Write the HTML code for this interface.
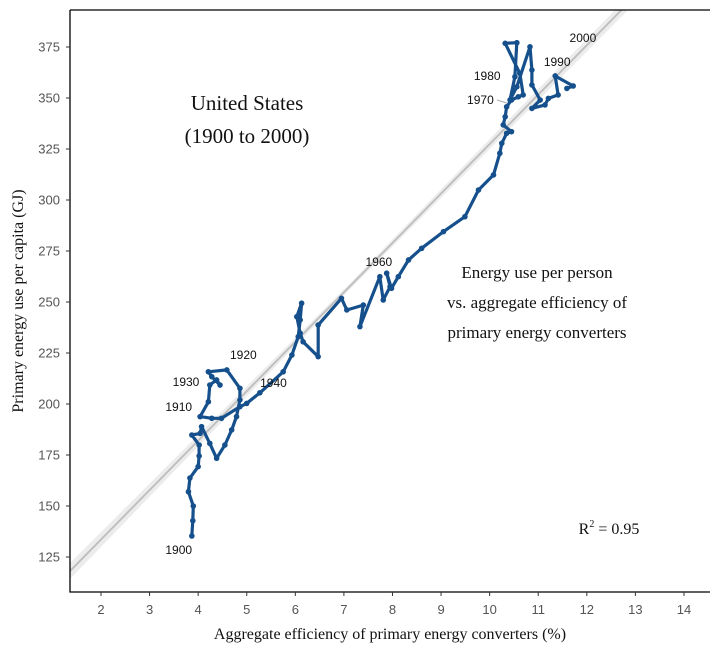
<!DOCTYPE html>
<html><head><meta charset="utf-8"><style>
body{margin:0;background:#fff;}
svg{display:block;}
.tk{font-family:"Liberation Sans",sans-serif;font-size:13px;fill:#555;}
.yr{font-family:"Liberation Sans",sans-serif;font-size:12px;fill:#111;}
.serif{font-family:"Liberation Serif",serif;fill:#111;}
</style></head><body>
<svg id="chart" width="722" height="650"></svg>
<script>
const xValues=[3.87,3.89,3.90,3.80,3.83,4.00,4.02,4.02,3.87,4.04,4.07,4.24,4.38,4.55,4.69,4.79,4.86,4.86,4.59,4.21,4.28,4.45,4.38,4.24,4.21,4.04,4.28,4.48,4.86,5.00,5.27,5.75,5.93,6.06,6.10,6.13,6.03,6.10,6.16,6.47,6.47,6.95,7.06,7.40,7.33,7.74,7.81,7.95,7.88,7.98,8.12,8.33,8.60,9.05,9.49,9.77,10.08,10.21,10.25,10.35,10.45,10.28,10.32,10.35,10.45,10.59,10.69,10.62,10.32,10.56,10.52,10.42,10.56,10.83,10.87,10.87,11.04,10.87,11.14,11.21,11.41,11.35,11.72,11.59];
const yValues=[135.3,142.8,150,157,163.7,169.3,174.5,179.9,184.8,185.6,188.9,180.7,173.4,179.9,187.3,193.8,202,207.7,216.7,215.8,213.4,209.3,211.8,209.3,201.1,193.8,193,193,198.7,200.3,205.5,215.8,224,233,241.2,249.4,242.8,234.7,230.5,223.2,238.7,251.8,246.1,248.5,237.9,262.4,251,257.5,264.1,256.7,262.4,270.6,276.3,284.5,291.8,304.9,312.3,322.9,327.8,332.7,333.5,336.8,340.8,345.7,349,350.6,351.5,362.1,376.8,377.1,360.4,349,355.5,375.1,363.7,356.4,349,344.9,346.6,349.8,351.5,360.8,355.9,354.7];
const xTicks=[2,3,4,5,6,7,8,9,10,11,12,13,14];
const yTicks=[125,150,175,200,225,250,275,300,325,350,375];
const fitIntercept=85.1, fitSlope=24.23;
const yearLabels=["1900","1910","1920","1930","1940","1960","1970","1980","1990","2000"];
const yearLabelX=[3.6,3.6,4.93,3.75,5.55,7.72,9.81,9.95,11.39,11.92];
const yearLabelY=[128.4,198.5,224,210.8,210.3,269.6,349,360.8,367.6,379.4];

const L=70,R=710,T=10,B=592;
const xs=v=>101+(v-2)*48.58;
const ys=v=>557-(v-125)*2.04;
const NS="http://www.w3.org/2000/svg";
const svg=document.getElementById('chart');
function mk(tag,attrs,parent){const e=document.createElementNS(NS,tag);for(const k in attrs)e.setAttribute(k,attrs[k]);(parent||svg).appendChild(e);return e;}
const defs=mk('defs',{});
const cp=mk('clipPath',{id:'clip'},defs);mk('rect',{x:L,y:T,width:R-L,height:B-T},cp);
const g=mk('g',{'clip-path':'url(#clip)'});
const x0=1.3,x1=14.6,xm=7.2;
const band=mk('polygon',{points:[[xs(x0),ys(fitIntercept+fitSlope*x0)-8],[xs(xm),ys(fitIntercept+fitSlope*xm)-3],[xs(x1),ys(fitIntercept+fitSlope*x1)-8],[xs(x1),ys(fitIntercept+fitSlope*x1)+8],[xs(xm),ys(fitIntercept+fitSlope*xm)+3],[xs(x0),ys(fitIntercept+fitSlope*x0)+8]].map(p=>p.join(',')).join(' '),fill:'#ececec'},g);


const fit=mk('line',{x1:xs(x0),y1:ys(fitIntercept+fitSlope*x0),x2:xs(x1),y2:ys(fitIntercept+fitSlope*x1),stroke:'#bdbdbd','stroke-width':1.8},g);


const ax=mk('path',{d:`M${L},${T}H${R}M${L},${T}V${B}H${R}`,stroke:'#000','stroke-width':1.3,fill:'none'});


xTicks.forEach(v=>{
  mk('line',{x1:xs(v),x2:xs(v),y1:B,y2:B+4,stroke:'#333'});
  const t=mk('text',{x:xs(v),y:B+22,'text-anchor':'middle',class:'tk'});t.textContent=v;
  
  
});
yTicks.forEach(v=>{
  mk('line',{x1:L-4,x2:L,y1:ys(v),y2:ys(v),stroke:'#333'});
  const t=mk('text',{x:L-10,y:ys(v)+4.5,'text-anchor':'end',class:'tk'});t.textContent=v;
  
  
});
const pts=xValues.map((v,i)=>xs(v).toFixed(1)+','+ys(yValues[i]).toFixed(1)).join(' ');
const line=mk('polyline',{points:pts,fill:'none',stroke:'#16508c','stroke-width':3.2,'stroke-linejoin':'round'});


xValues.forEach((v,i)=>{
  const c=mk('circle',{cx:xs(v),cy:ys(yValues[i]),r:2.8,fill:'#16508c'});
  
  
});
mk('line',{x1:497,y1:100,x2:507,y2:103,stroke:'#aaa','stroke-width':1});
yearLabels.forEach((s,i)=>{
  const t=mk('text',{x:xs(yearLabelX[i]),y:ys(yearLabelY[i])+4,'text-anchor':'middle',class:'yr'});t.textContent=s;
  
  
});
function txt(x,y,s,size,name,extra){const t=mk('text',Object.assign({x:x,y:y,'text-anchor':'middle',class:'serif','font-size':size},extra||{}));t.textContent=s;
  
  return t;}
txt(247,110,'United States',21,'chart-title');
txt(247,143,'(1900 to 2000)',21,'chart-subtitle');
txt(537,278,'Energy use per person',17,'annotation-line1');
txt(537,308,'vs. aggregate efficiency of',17,'annotation-line2');
txt(537,338,'primary energy converters',17,'annotation-line3');
const r2=mk('text',{x:609,y:534,'text-anchor':'middle',class:'serif','font-size':16});
r2.innerHTML='R<tspan dy="-7" font-size="10">2</tspan><tspan dy="7"> = 0.95</tspan>';


txt(390,639,'Aggregate efficiency of primary energy converters (%)',16,'x-axis-title');
txt(0,0,'Primary energy use per capita (GJ)',16,'y-axis-title',{transform:'translate(23,301) rotate(-90)'});
</script>
</body></html>
